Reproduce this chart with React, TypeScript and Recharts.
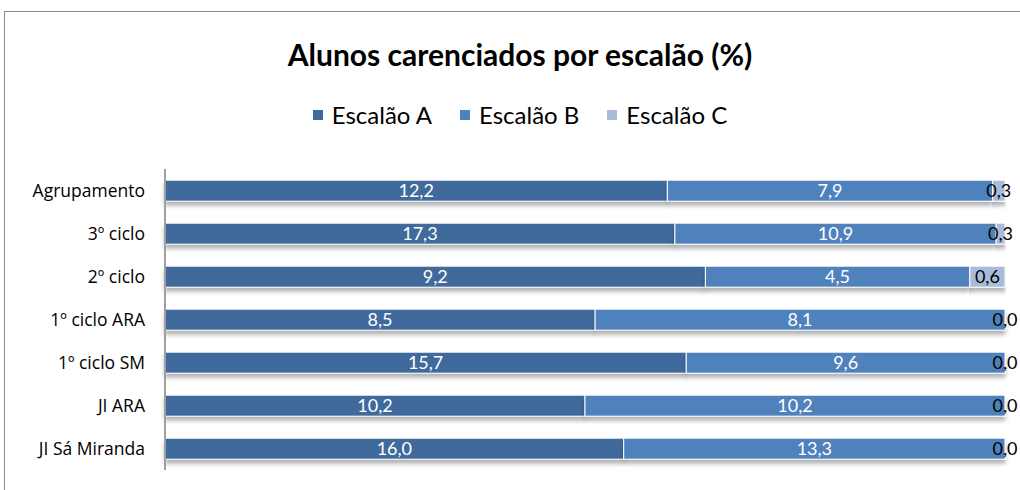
import { Bar, BarChart, LabelList, Legend, XAxis, YAxis } from "recharts";

const CATEGORIES = [
  "Agrupamento",
  "3º ciclo",
  "2º ciclo",
  "1º ciclo ARA",
  "1º ciclo SM",
  "JI ARA",
  "JI Sá Miranda",
];
const ESCALAO_A = [12.2, 17.3, 9.2, 8.5, 15.7, 10.2, 16.0];
const ESCALAO_B = [7.9, 10.9, 4.5, 8.1, 9.6, 10.2, 13.3];
const ESCALAO_C = [0.3, 0.3, 0.6, 0, 0, 0, 0];

const SERIES = [
  { key: "a", name: "Escalão A", color: "#3f6a9c" },
  { key: "b", name: "Escalão B", color: "#4f81bd" },
  { key: "c", name: "Escalão C", color: "#a9bbdb" },
];

const data = CATEGORIES.map((name, i) => ({
  name,
  a: ESCALAO_A[i],
  b: ESCALAO_B[i],
  c: ESCALAO_C[i],
}));

const FONT = "Lato, 'Open Sans', sans-serif";
const TICK_FONT = "'Open Sans', sans-serif";
const fmt = (v: unknown) => Number(v).toFixed(1).replace(".", ",");

const ShadowRect = (props: any) => {
  const { x, y, width, height, fill } = props;
  if (!width || width <= 0) return null;
  return (
    <rect
      x={x}
      y={y}
      width={width}
      height={height}
      fill={fill}
      stroke="#ffffff"
      strokeWidth={1}
      filter="url(#barShadow)"
    />
  );
};

function LegendContent() {
  return (
    <div style={{ display: "flex", justifyContent: "center", gap: 28, fontFamily: FONT, fontSize: 24 }}>
      {SERIES.map((s) => (
        <div key={s.key} style={{ display: "flex", alignItems: "center", gap: 9 }}>
          <span style={{ display: "inline-block", width: 10, height: 10, background: s.color }} />
          <span style={{ color: "#000" }}>{s.name}</span>
        </div>
      ))}
    </div>
  );
}

export default function App() {
  return (
    <div style={{ position: "absolute", left: 0, top: 0, width: 1020, height: 490, background: "#fff", overflow: "hidden" }}>
      <div
        style={{
          position: "absolute",
          left: 4,
          top: 11,
          width: 1040,
          height: 520,
          border: "1px solid #8a8a8a",
          boxSizing: "border-box",
        }}
      />
      <div
        style={{
          position: "absolute",
          top: 36,
          left: 0,
          width: 1040,
          textAlign: "center",
          fontFamily: FONT,
          fontWeight: 700,
          fontSize: 30,
          color: "#000",
        }}
      >
        Alunos carenciados por escalão (%)
      </div>
      <div style={{ position: "absolute", left: 0, top: 0 }}>
        <BarChart
          width={1020}
          height={490}
          data={data}
          layout="vertical"
          stackOffset="expand"
          barCategoryGap="26%"
          margin={{ top: 140, right: 15, bottom: 20, left: 0 }}
        >
          <defs>
            <filter id="barShadow" x="-2%" y="-40%" width="104%" height="200%">
              <feDropShadow dx={0} dy={4} stdDeviation={2} floodColor="#000" floodOpacity={0.3} />
            </filter>
          </defs>
          <XAxis type="number" hide domain={[0, 1]} />
          <YAxis
            type="category"
            dataKey="name"
            width={165}
            axisLine={{ stroke: "#a0a0a0", strokeWidth: 2 }}
            tickLine={false}
            tickMargin={14}
            tick={{ fill: "#000", fontSize: 17.5, fontFamily: TICK_FONT }}
          />
          <Legend
            verticalAlign="top"
            content={<LegendContent />}
            wrapperStyle={{ top: 100, left: 0, width: 1040 }}
          />
          {SERIES.map((s) => (
            <Bar
              key={s.key}
              dataKey={s.key}
              name={s.name}
              stackId="x"
              fill={s.color}
              shape={ShadowRect}
              isAnimationActive={false}
            >
              <LabelList
                dataKey={s.key}
                position="center"
                formatter={fmt}
                fill={s.key === "c" ? "#000" : "#fff"}
                style={{ fontSize: 18, fontFamily: FONT }}
              />
            </Bar>
          ))}
        </BarChart>
      </div>
    </div>
  );
}
